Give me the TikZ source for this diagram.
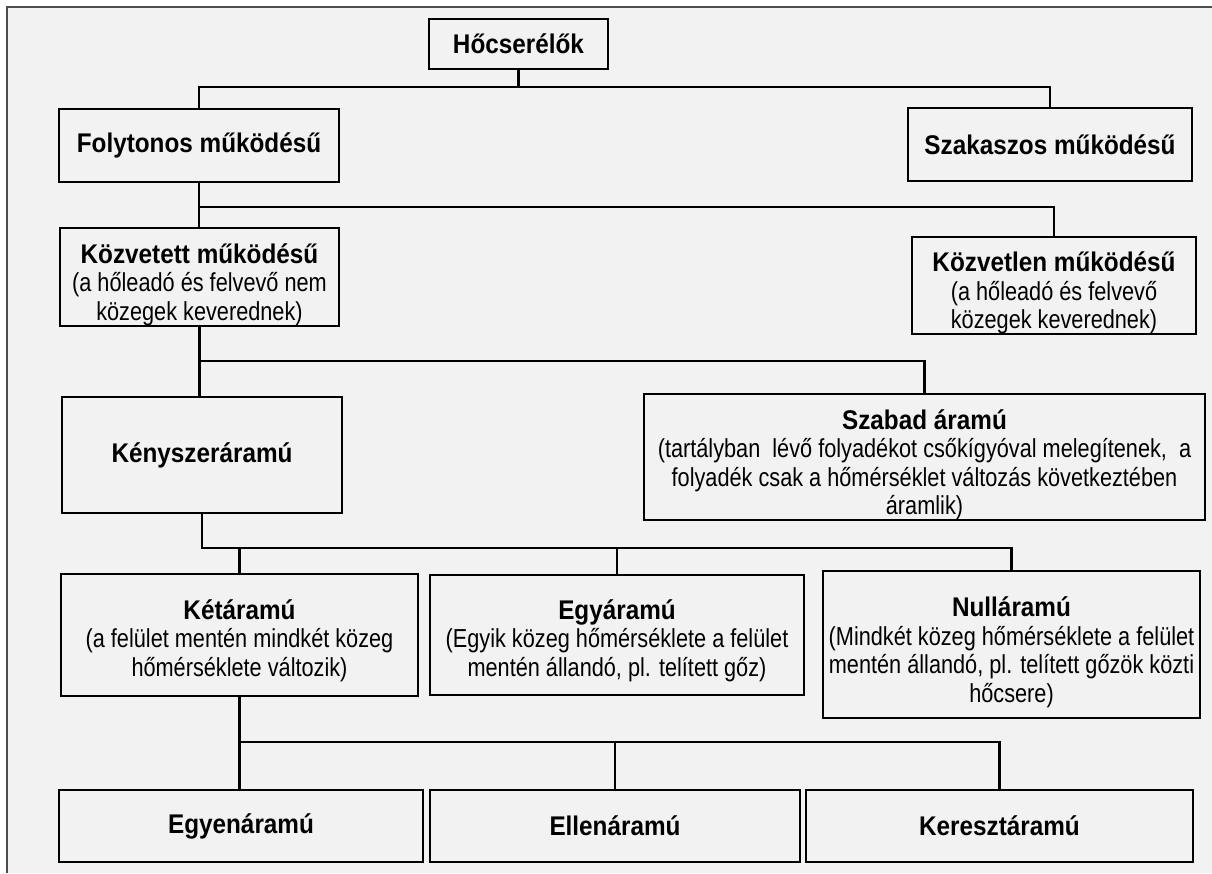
\documentclass[tikz,border=0pt]{standalone}
\usepackage{fontspec}
\setmainfont{Liberation Sans}
\newfontfamily\descfam{Liberation Sans}[FakeStretch=0.835]
\newfontfamily\ttlfam{Liberation Sans}[FakeStretch=0.9]
\newcommand\tf{\ttlfam\bfseries\fontsize{27}{28.5}\selectfont}
\newcommand\df{\descfam\fontsize{26}{28.5}\selectfont}
\newcommand\nudge[1]{\rule{0pt}{#1}}
\definecolor{bgc}{HTML}{F2F2F2}
\definecolor{framec}{HTML}{4D4D4D}
\tikzset{
  box/.style={draw=black, line width=1.8pt, fill=bgc, inner sep=0pt, align=center, font=\df},
  tbox/.style={box, font=\tf},
  conn/.style={draw=black, line width=2.7pt, line cap=rect}
}
\begin{document}
\begin{tikzpicture}[x=1pt,y=-1pt]
\useasboundingbox (0,0) rectangle (1212,873);
\fill[white] (0,0) rectangle (1212,873);
\fill[bgc] (7,7) rectangle (1212,873);
\draw[framec, line width=2pt] (7,873) -- (7,7) -- (1212,7);

\node[tbox, minimum width=179pt, minimum height=50pt] (H) at (518.5,44) {Hőcserélők};
\node[tbox, minimum width=280pt, minimum height=73pt] (F) at (199,145.5) {Folytonos működésű};
\node[tbox, minimum width=284pt, minimum height=73pt] (Sz) at (1050,144.5) {Szakaszos működésű};
\node[box, minimum width=279pt, minimum height=97pt] (Kt) at (199.5,277) {{\tf\nudge{35pt}Közvetett működésű}\\(a hőleadó és felvevő nem\\közegek keverednek)};
\node[box, minimum width=284pt, minimum height=97pt] (Kl) at (1054,285.5) {{\tf\nudge{35pt}Közvetlen működésű}\\(a hőleadó és felvevő\\közegek keverednek)};
\node[tbox, minimum width=280pt, minimum height=116pt] (Ke) at (202,455) {Kényszeráramú};
\node[box, minimum width=561pt, minimum height=120pt] (Sa) at (924.5,457) {{\tf\nudge{35pt}Szabad áramú}\\(tartályban\ \ lévő folyadékot csőkígyóval melegítenek,\ \ a\\folyadék csak a hőmérséklet változás következtében\\áramlik)};
\node[box, minimum width=357pt, minimum height=122pt] (Ka) at (239.5,635) {{\tf\nudge{31pt}Kétáramú}\\(a felület mentén mindkét közeg\\hőmérséklete változik)};
\node[box, minimum width=374pt, minimum height=120pt] (Ea) at (617,635) {{\tf\nudge{31pt}Egyáramú}\\(Egyik közeg hőmérséklete a felület\\mentén állandó, pl. telített gőz)};
\node[box, minimum width=377pt, minimum height=147pt] (Na) at (1011.5,644.5) {{\tf\nudge{35pt}Nulláramú}\\(Mindkét közeg hőmérséklete a felület\\mentén állandó, pl. telített gőzök közti\\hőcsere)};
\node[tbox, minimum width=364pt, minimum height=72pt] (Eg) at (241,826) {Egyenáramú};
\node[tbox, minimum width=370pt, minimum height=72pt] (El) at (615,826) {Ellenáramú};
\node[tbox, minimum width=387pt, minimum height=72pt] (Kr) at (999.5,826) {Keresztáramú};

\coordinate (y1) at (0,87);
\coordinate (y2) at (0,207);
\coordinate (y3) at (0,361);
\coordinate (y4) at (0,548);
\coordinate (y5) at (0,742);

\draw[conn] (H.south) -- (H.south |- y1);
\draw[conn] (F.north) -- (F.north |- y1) -- (Sz.north |- y1) -- (Sz.north);
\draw[conn] (F.south) -- (F.south |- Kt.north);
\draw[conn] (F.south |- y2) -- (Kl.north |- y2) -- (Kl.north);
\draw[conn] (Kt.south) -- (Kt.south |- Ke.north);
\draw[conn] (Kt.south |- y3) -- (Sa.north |- y3) -- (Sa.north);
\draw[conn] (Ke.south) -- (Ke.south |- y4) -- (Na.north |- y4) -- (Na.north);
\draw[conn] (Ka.north |- y4) -- (Ka.north);
\draw[conn] (Ea.north |- y4) -- (Ea.north);
\draw[conn] (Ka.south) -- (Ka.south |- y5) -- (Kr.north |- y5) -- (Kr.north);
\draw[conn] (Ka.south |- y5) -- (Ka.south |- Eg.north);
\draw[conn] (El.north |- y5) -- (El.north);
\end{tikzpicture}
\end{document}
